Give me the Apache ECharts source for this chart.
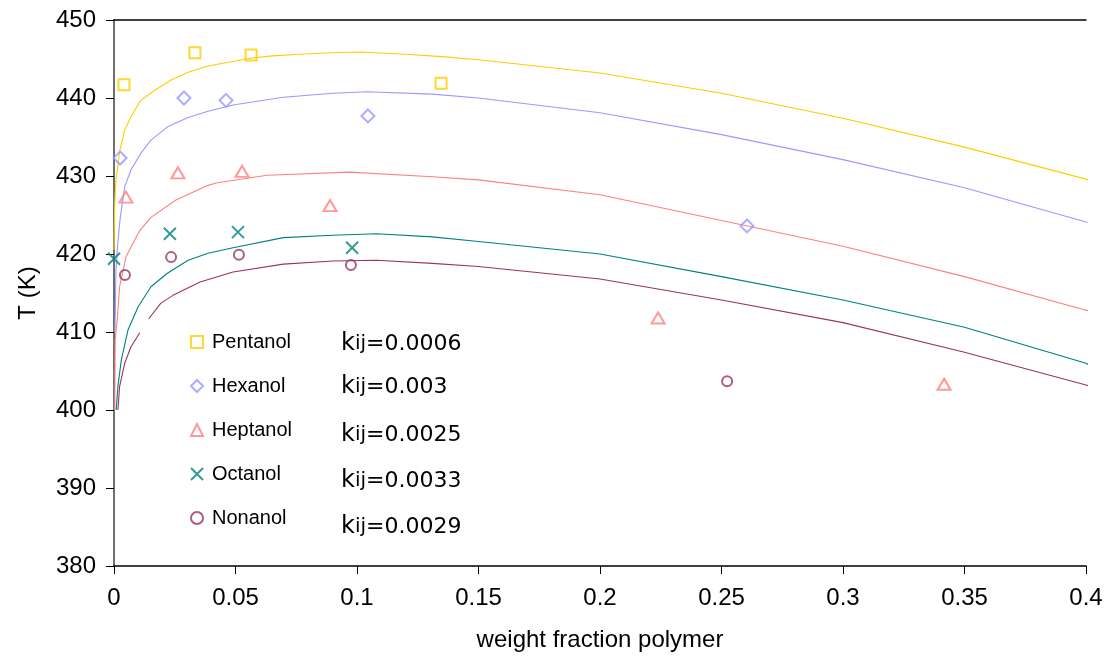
<!DOCTYPE html>
<html>
<head>
<meta charset="utf-8">
<script src="https://cdn.jsdelivr.net/npm/echarts@6/dist/echarts.min.js"></script>
<style>html,body{margin:0;padding:0;background:#fff}#c{width:1113px;height:658px}</style>
</head>
<body>
<div id="c"></div>
<script>
// ---- data ----
const seriesNames = ['Pentanol', 'Hexanol', 'Heptanol', 'Octanol', 'Nonanol'];
const kijLabels = ['0.0006', '0.003', '0.0025', '0.0033', '0.0029'];
const xTicks = [0, 0.05, 0.1, 0.15, 0.2, 0.25, 0.3, 0.35, 0.4];
const yTicks = [380, 390, 400, 410, 420, 430, 440, 450];

// experimental points [w, T]
const pentanolExp = [[0.0041, 441.7], [0.0333, 445.8], [0.0564, 445.5], [0.1346, 441.9]];
const hexanolExp = [[0.0025, 432.3], [0.0288, 440.0], [0.0461, 439.7], [0.1045, 437.7], [0.2605, 423.6]];
const heptanolExp = [[0.0049, 427.3], [0.0263, 430.4], [0.0527, 430.6], [0.0889, 426.2], [0.2239, 411.8], [0.3416, 403.3]];
const octanolExp = [[0.0, 419.4], [0.023, 422.6], [0.051, 422.8], [0.098, 420.8]];
const nonanolExp = [[0.0045, 417.3], [0.0235, 419.6], [0.0514, 419.9], [0.0975, 418.6], [0.2523, 403.7]];

// model curves [w, T]
const pentanolFit = [[0.0, 420.5], [0.0003, 426.5], [0.0008, 429.5], [0.0024, 433.3], [0.0044, 435.9], [0.007, 437.6], [0.011, 439.7], [0.0168, 441.0], [0.0235, 442.3], [0.0305, 443.3], [0.0387, 444.1], [0.056, 445.1], [0.065, 445.4], [0.0765, 445.6], [0.09, 445.8], [0.101, 445.9], [0.12, 445.6], [0.135, 445.3], [0.15, 444.9], [0.2, 443.2], [0.25, 440.6], [0.3, 437.4], [0.35, 433.7], [0.4, 429.6], [0.4029, 429.4]];
const hexanolFit = [[0.0004, 410.0], [0.0008, 418.0], [0.0016, 421.5], [0.0025, 424.5], [0.0044, 428.6], [0.007, 430.8], [0.011, 432.9], [0.0152, 434.6], [0.022, 436.3], [0.0305, 437.5], [0.0387, 438.3], [0.049, 439.1], [0.0697, 440.1], [0.09, 440.6], [0.104, 440.8], [0.131, 440.5], [0.15, 440.0], [0.2, 438.1], [0.25, 435.3], [0.3, 432.1], [0.35, 428.5], [0.4, 424.1], [0.4029, 424.0]];
const heptanolFit = [[0.0003, 400.0], [0.0005, 409.0], [0.0014, 411.9], [0.0023, 415.8], [0.0049, 419.6], [0.0085, 421.8], [0.0106, 423.0], [0.0152, 424.7], [0.0253, 426.9], [0.0387, 428.8], [0.042, 429.1], [0.063, 430.1], [0.097, 430.5], [0.131, 429.9], [0.15, 429.5], [0.2, 427.6], [0.25, 424.3], [0.3, 421.0], [0.35, 417.1], [0.4, 412.8], [0.4029, 412.7]];
const octanolFit = [[0.0009, 400.0], [0.0016, 403.0], [0.003, 406.4], [0.0058, 410.3], [0.0099, 413.2], [0.0152, 415.8], [0.0218, 417.5], [0.0305, 419.2], [0.0387, 420.1], [0.049, 420.8], [0.0697, 422.1], [0.09, 422.4], [0.108, 422.6], [0.131, 422.2], [0.15, 421.6], [0.2, 420.0], [0.25, 417.1], [0.3, 414.1], [0.35, 410.6], [0.4, 406.0], [0.4029, 405.5]];
const nonanolFit = [[0.0016, 400.0], [0.0023, 403.0], [0.0044, 406.0], [0.007, 408.1], [0.0106, 409.9], [0.0125, '-'], [0.0143, 411.7], [0.0193, 413.7], [0.0243, 414.7], [0.0354, 416.4], [0.049, 417.7], [0.0697, 418.7], [0.09, 419.1], [0.108, 419.2], [0.131, 418.8], [0.15, 418.4], [0.2, 416.8], [0.25, 414.1], [0.3, 411.2], [0.35, 407.4], [0.4, 403.2], [0.4029, 402.9]];

const colors = ['#FFCC00', '#9999FF', '#FF8080', '#008080', '#993366'];
const expData = [pentanolExp, hexanolExp, heptanolExp, octanolExp, nonanolExp];
const fitData = [pentanolFit, hexanolFit, heptanolFit, octanolFit, nonanolFit];
const symbols = ['rect', 'diamond', 'triangle', 'path://M0,0L10,10M10,0L0,10', 'circle'];
const symbolSizes = [11, 13, [13, 11], 12, 10];

const chart = echarts.init(document.getElementById('c'));
const series = [];
for (let i = 0; i < 5; i++) {
  series.push({
    name: seriesNames[i] + ' model', type: 'line', data: fitData[i], showSymbol: false,
    clip: false, connectNulls: false, silent: true,
    lineStyle: { color: colors[i], width: 1.1 }, itemStyle: { color: colors[i] }, z: 2
  });
}
for (let i = 0; i < 5; i++) {
  series.push({
    name: seriesNames[i], type: 'scatter', data: expData[i], symbol: symbols[i],
    symbolSize: symbolSizes[i], clip: false,
    itemStyle: { color: 'rgba(255,255,255,0)', borderColor: colors[i], borderWidth: 2 }, z: 3
  });
}
const axisFont = { fontFamily: 'Liberation Sans', fontSize: 24, color: '#000' };
const graphics = kijLabels.map((v, i) => ({
  type: 'text', left: 341, top: [332, 375, 423, 469, 515][i],
  style: {
    text: '{k|k}{ij|ij}{v|=' + v + '}',
    rich: {
      k: { fontFamily: 'DejaVu Sans', fontSize: 24, fill: '#000' },
      ij: { fontFamily: 'DejaVu Sans', fontSize: 20, fill: '#000' },
      v: { fontFamily: 'DejaVu Sans', fontSize: 22, fill: '#000' }
    }
  }
}));
chart.setOption({
  animation: false,
  backgroundColor: '#fff',
  grid: { left: 114, right: 27, top: 20, bottom: 92 },
  legend: {
    data: seriesNames, orient: 'vertical', left: 185, top: 327,
    itemWidth: 12, itemHeight: 12, itemGap: 24,
    textStyle: { fontFamily: 'Liberation Sans', fontSize: 20, color: '#000', padding: [0, 0, 0, 4] }
  },
  xAxis: [{
    type: 'value', min: 0, max: 0.4, interval: 0.05,
    name: 'weight fraction polymer', nameLocation: 'middle', nameGap: 62,
    nameTextStyle: axisFont,
    axisLine: { show: true, lineStyle: { color: '#000', width: 1.5 } },
    axisTick: { show: true, length: 8, lineStyle: { color: '#000' } },
    axisLabel: Object.assign({ margin: 20, formatter: v => String(+v.toFixed(2)) }, axisFont),
    splitLine: { show: false }
  }, {
    type: 'value', position: 'top', min: 0, max: 0.4,
    axisLine: { show: true, lineStyle: { color: '#000', width: 1.5 } },
    axisTick: { show: false }, axisLabel: { show: false }, splitLine: { show: false }
  }],
  yAxis: [{
    type: 'value', min: 380, max: 450, interval: 10,
    name: 'T (K)', nameLocation: 'middle', nameGap: 74, nameRotate: 90,
    nameTextStyle: axisFont,
    axisLine: { show: true, lineStyle: { color: '#000', width: 1.5 } },
    axisTick: { show: true, length: 8, lineStyle: { color: '#000' } },
    axisLabel: Object.assign({ margin: 18 }, axisFont),
    splitLine: { show: false }
  }, {
    type: 'value', position: 'right', min: 380, max: 450,
    axisLine: { show: true, lineStyle: { color: '#808080', width: 1.5 } },
    axisTick: { show: false }, axisLabel: { show: false }, splitLine: { show: false }
  }],
  graphic: graphics,
  series: series
});
</script>
</body>
</html>
